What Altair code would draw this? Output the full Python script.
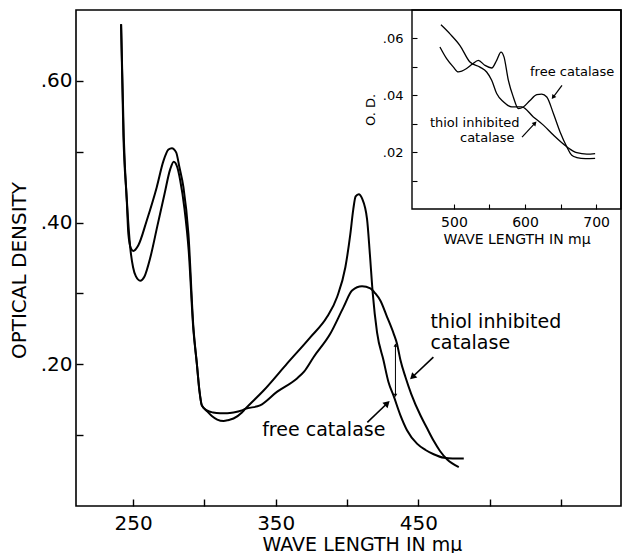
import altair as alt
import pandas as pd

FONT = "DejaVu Sans"

# ---------------- main spectrum (wave length in m\u03bc, optical density) ----------------
FREE_WL = [241.6, 243.2, 245.6, 246.7, 248.6, 250.2, 253.7, 259.6, 266.6, 271.3, 274.8, 277.2,
           280.2, 282.5, 285.3, 288.8, 292.3, 294.7, 296.5, 298.2, 301.7, 305.2, 309.0, 313.4,
           317.0, 320.4, 326.3, 328.6, 341.5, 357.9, 374.2, 386.0, 393.0, 398.8, 402.3, 404.3,
           406.0, 408.2, 410.5, 414.0, 416.0, 418.0, 421.0, 425.6, 429.0, 432.7, 437.4, 442.0,
           449.0, 455.0, 460.7, 468.0, 474.0, 481.8]
FREE_OD = [0.680, 0.525, 0.431, 0.384, 0.363, 0.360, 0.368, 0.403, 0.450, 0.487, 0.503, 0.505,
           0.499, 0.478, 0.450, 0.384, 0.252, 0.201, 0.163, 0.142, 0.134, 0.127, 0.122, 0.120,
           0.1215, 0.1235, 0.132, 0.137, 0.163, 0.201, 0.238, 0.267, 0.295, 0.337, 0.384, 0.418,
           0.437, 0.440, 0.434, 0.405, 0.355, 0.300, 0.245, 0.205, 0.175, 0.155, 0.128, 0.107,
           0.088, 0.079, 0.073, 0.068, 0.067, 0.067]

THIOL_WL = [241.6, 243.5, 246.0, 248.0, 250.0, 252.0, 255.0, 258.0, 262.0, 267.0, 272.0, 276.0,
            278.5, 281.0, 283.0, 286.0, 289.0, 292.3, 294.7, 296.5, 298.2, 301.7, 306.0, 311.0,
            316.0, 320.4, 326.3, 328.6, 339.0, 350.8, 364.9, 370.0, 376.5, 388.2, 397.6, 403.5,
            410.5, 416.3, 419.8, 423.3, 428.0, 432.7, 435.0, 437.4, 440.9, 445.0, 451.4, 456.0,
            460.7, 465.0, 470.0, 478.3]
THIOL_OD = [0.680, 0.520, 0.420, 0.365, 0.337, 0.324, 0.318, 0.324, 0.350, 0.395, 0.440, 0.475,
            0.486, 0.478, 0.460, 0.420, 0.360, 0.248, 0.201, 0.163, 0.142, 0.135, 0.132, 0.131,
            0.131, 0.132, 0.135, 0.137, 0.142, 0.161, 0.180, 0.190, 0.210, 0.243, 0.281, 0.304,
            0.310, 0.307, 0.300, 0.290, 0.267, 0.243, 0.229, 0.206, 0.182, 0.158, 0.128, 0.110,
            0.092, 0.078, 0.066, 0.055]

MAIN_X_DOMAIN = [210, 592]
MAIN_Y_DOMAIN = [0, 0.7]
MAIN_X_TICKS = [250, 300, 350, 400, 450, 500, 550]
MAIN_X_LABELED = [250, 350, 450]
MAIN_Y_TICKS = [0.1, 0.2, 0.3, 0.4, 0.5, 0.6]
MAIN_Y_LABELED = [0.2, 0.4, 0.6]

# annotations of the main panel
MAIN_NOTE_TEXT = ["thiol inhibited", "catalase", "free catalase"]
MAIN_NOTE_WL = [458.4, 458.4, 340.5]
MAIN_NOTE_OD = [0.259, 0.2296, 0.107]
MAIN_ARROW_WL = [460.5, 414.2]        # tails
MAIN_ARROW_OD = [0.210, 0.118]
MAIN_ARROW_WL2 = [445.8, 428.2]       # tips
MAIN_ARROW_OD2 = [0.182, 0.145]
MAIN_ARROW_ANGLE = [226, 46]
GAP_WL = [433.9]
GAP_OD = [0.156]
GAP_OD2 = [0.227]

# ---------------- inset: visible region ----------------
FREE_IN_WL = [480.3, 489.7, 499.0, 506.1, 517.8, 526.0, 534.3, 543.7, 553.1, 560.1, 566.2, 570.4,
              576.5, 583.5, 590.6, 597.6, 607.0, 616.5, 623.5, 630.6, 639.9, 649.3, 658.7, 665.8,
              672.8, 685.0, 698.6]
FREE_IN_OD = [0.0570, 0.0529, 0.0500, 0.0482, 0.0494, 0.0510, 0.0523, 0.0505, 0.0496, 0.0523,
              0.0552, 0.0535, 0.0453, 0.0394, 0.0353, 0.0359, 0.0382, 0.0402, 0.0404, 0.0394,
              0.0336, 0.0271, 0.0219, 0.0189, 0.0181, 0.0177, 0.0178]
THIOL_IN_WL = [481.7, 494.4, 508.5, 522.5, 536.6, 546.0, 553.1, 560.1, 569.5, 581.3, 595.4, 611.7,
               625.8, 639.9, 658.7, 672.8, 686.9, 698.6]
THIOL_IN_OD = [0.0648, 0.0616, 0.0575, 0.0517, 0.0499, 0.0482, 0.0453, 0.0406, 0.0377, 0.0359,
               0.0359, 0.0324, 0.0295, 0.0260, 0.0219, 0.0198, 0.0193, 0.0195]

INSET_X_DOMAIN = [441, 735]
INSET_Y_DOMAIN = [0, 0.07]
INSET_X_TICKS = [500, 550, 600, 650, 700]
INSET_X_LABELED = [500, 600, 700]
INSET_Y_TICKS = [0.01, 0.02, 0.03, 0.04, 0.05, 0.06]
INSET_Y_LABELED = [0.02, 0.04, 0.06]

INSET_NOTE_TEXT = ["free catalase", "thiol inhibited", "catalase"]
INSET_NOTE_WL = [607.0, 466.2, 508.5]
INSET_NOTE_OD = [0.0481, 0.0302, 0.0249]
INSET_ARROW_WL = [652.0, 595.8]
INSET_ARROW_OD = [0.0435, 0.0253]
INSET_ARROW_WL2 = [639.4, 614.0]
INSET_ARROW_OD2 = [0.0393, 0.0302]
INSET_ARROW_ANGLE = [217, 43]

# ---------------- layout (pixels) ----------------
W, H = 545, 496
INSET_RANGE_X = [336, 545]
INSET_RANGE_Y = [199, 0]


def in_list_expr(vals):
    return "indexof([" + ",".join(str(v) for v in vals) + "], datum.value) >= 0"


main_x_scale = alt.Scale(domain=MAIN_X_DOMAIN, nice=False, zero=False)
main_y_scale = alt.Scale(domain=MAIN_Y_DOMAIN, nice=False, zero=False)
inset_x_scale = alt.Scale(domain=INSET_X_DOMAIN, range=INSET_RANGE_X, nice=False, zero=False)
inset_y_scale = alt.Scale(domain=INSET_Y_DOMAIN, range=INSET_RANGE_Y, nice=False, zero=False)

main_x_axis = alt.Axis(
    values=MAIN_X_TICKS, orient="bottom", offset=-7, tickSize=7, domain=False, grid=False,
    labelExpr=in_list_expr(MAIN_X_LABELED) + " ? datum.label : ''",
    labelPadding=7, labelFontSize=20, labelFont=FONT, labelColor="black",
    tickColor="black", tickWidth=1.4,
    title="WAVE LENGTH IN m\u03bc", titleFont=FONT, titleFontSize=19, titleFontWeight="normal",
    titleColor="black", titleBaseline="alphabetic", titlePadding=17, titleX=286)
main_y_axis = alt.Axis(
    values=MAIN_Y_TICKS, orient="left", offset=-7, tickSize=7, domain=False, grid=False,
    labelExpr=in_list_expr(MAIN_Y_LABELED) + " ? substring(format(datum.value, '.2f'), 1) : ''",
    labelPadding=4, labelFontSize=20, labelFont=FONT, labelColor="black",
    tickColor="black", tickWidth=1.4,
    title="OPTICAL DENSITY", titleFont=FONT, titleFontSize=20, titleFontWeight="normal",
    titleColor="black", titlePadding=11, titleY=260)

inset_x_axis = alt.Axis(
    values=INSET_X_TICKS, orient="bottom", offset=-(H - INSET_RANGE_Y[0]) - 5, tickSize=5,
    domain=False, grid=False,
    labelExpr=in_list_expr(INSET_X_LABELED) + " ? datum.label : ''",
    labelPadding=6, labelFontSize=14, labelFont=FONT, labelColor="black",
    tickColor="black", tickWidth=1.1,
    title="WAVE LENGTH IN m\u03bc", titleFont=FONT, titleFontSize=14, titleFontWeight="normal",
    titleColor="black", titlePadding=3)
inset_y_axis = alt.Axis(
    values=INSET_Y_TICKS, orient="left", offset=-(INSET_RANGE_X[0] + 5), tickSize=5,
    domain=False, grid=False,
    labelExpr=in_list_expr(INSET_Y_LABELED) + " ? substring(format(datum.value, '.2f'), 1) : ''",
    labelPadding=9, labelFontSize=13, labelFont=FONT, labelColor="black",
    tickColor="black", tickWidth=1.1,
    title="O. D.", titleFont=FONT, titleFontSize=13, titleFontWeight="normal",
    titleColor="black", titlePadding=5)

# ---------------- data tables ----------------
main_df = pd.concat([
    pd.DataFrame({"wl": FREE_WL, "od": FREE_OD, "series": "free catalase"}),
    pd.DataFrame({"wl": THIOL_WL, "od": THIOL_OD, "series": "thiol inhibited catalase"}),
])
inset_df = pd.concat([
    pd.DataFrame({"wl": FREE_IN_WL, "od": FREE_IN_OD, "series": "free catalase"}),
    pd.DataFrame({"wl": THIOL_IN_WL, "od": THIOL_IN_OD, "series": "thiol inhibited catalase"}),
])
main_notes = pd.DataFrame({"wl": MAIN_NOTE_WL, "od": MAIN_NOTE_OD, "text": MAIN_NOTE_TEXT})
main_arrows = pd.DataFrame({"wl": MAIN_ARROW_WL, "od": MAIN_ARROW_OD,
                            "wl2": MAIN_ARROW_WL2, "od2": MAIN_ARROW_OD2,
                            "ang": MAIN_ARROW_ANGLE})
gap_df = pd.DataFrame({"wl": GAP_WL, "od": GAP_OD, "od2": GAP_OD2})
gap_heads = pd.DataFrame({"wl": GAP_WL * 2, "od": GAP_OD + GAP_OD2, "ang": [180, 0]})
inset_notes = pd.DataFrame({"wl": INSET_NOTE_WL, "od": INSET_NOTE_OD, "text": INSET_NOTE_TEXT})
inset_arrows = pd.DataFrame({"wl": INSET_ARROW_WL, "od": INSET_ARROW_OD,
                             "wl2": INSET_ARROW_WL2, "od2": INSET_ARROW_OD2,
                             "ang": INSET_ARROW_ANGLE})
inset_box = pd.DataFrame({"wl": [INSET_X_DOMAIN[0]], "wl2": [INSET_X_DOMAIN[1]],
                          "od": [INSET_Y_DOMAIN[0]], "od2": [INSET_Y_DOMAIN[1]]})


def mx(field):
    return alt.X(field, scale=main_x_scale, axis=main_x_axis)


def my(field):
    return alt.Y(field, scale=main_y_scale, axis=main_y_axis)


def ix(field):
    return alt.X(field, scale=inset_x_scale, axis=inset_x_axis)


def iy(field):
    return alt.Y(field, scale=inset_y_scale, axis=inset_y_axis)


# ---------------- main panel ----------------
main_lines = alt.Chart(main_df).mark_line(
    color="black", strokeWidth=2, interpolate="monotone"
).encode(x=mx("wl:Q"), y=my("od:Q"), detail="series:N")
main_text = alt.Chart(main_notes).mark_text(
    align="left", baseline="middle", font=FONT, fontSize=19, color="black"
).encode(x=mx("wl:Q"), y=my("od:Q"), text="text:N")
main_arrow_lines = alt.Chart(main_arrows).mark_rule(color="black", strokeWidth=1.6).encode(
    x=mx("wl:Q"), x2="wl2:Q", y=my("od:Q"), y2="od2:Q")
main_arrow_heads = alt.Chart(main_arrows).mark_point(
    shape="triangle-up", filled=True, color="black", opacity=1, size=55
).encode(x=mx("wl2:Q"), y=my("od2:Q"), angle=alt.Angle("ang:Q", scale=None))
gap_line = alt.Chart(gap_df).mark_rule(color="black", strokeWidth=1).encode(
    x=mx("wl:Q"), y=my("od:Q"), y2="od2:Q")
gap_head_marks = alt.Chart(gap_heads).mark_point(
    shape="triangle-up", filled=True, color="black", opacity=1, size=14
).encode(x=mx("wl:Q"), y=my("od:Q"), angle=alt.Angle("ang:Q", scale=None))
main_panel = alt.layer(main_lines, main_text, main_arrow_lines, main_arrow_heads,
                       gap_line, gap_head_marks)

# ---------------- inset ----------------
inset_lines = alt.Chart(inset_df).mark_line(
    color="black", strokeWidth=1.3, interpolate="monotone"
).encode(x=ix("wl:Q"), y=iy("od:Q"), detail="series:N")
inset_frame = alt.Chart(inset_box).mark_rect(
    fillOpacity=0, stroke="black", strokeWidth=1.4
).encode(x=ix("wl:Q"), x2="wl2:Q", y=iy("od:Q"), y2="od2:Q")
inset_text = alt.Chart(inset_notes).mark_text(
    align="left", baseline="middle", font=FONT, fontSize=13, color="black"
).encode(x=ix("wl:Q"), y=iy("od:Q"), text="text:N")
inset_arrow_lines = alt.Chart(inset_arrows).mark_rule(color="black", strokeWidth=1.2).encode(
    x=ix("wl:Q"), x2="wl2:Q", y=iy("od:Q"), y2="od2:Q")
inset_arrow_heads = alt.Chart(inset_arrows).mark_point(
    shape="triangle-up", filled=True, color="black", opacity=1, size=25
).encode(x=ix("wl2:Q"), y=iy("od2:Q"), angle=alt.Angle("ang:Q", scale=None))
inset_panel = alt.layer(inset_lines, inset_frame, inset_text, inset_arrow_lines,
                        inset_arrow_heads)

chart = alt.layer(main_panel, inset_panel).resolve_scale(
    x="independent", y="independent"
).properties(
    width=W, height=H,
    autosize=alt.AutoSizeParams(type="none"),
    padding={"left": 76, "top": 10, "right": 2, "bottom": 47},
    background="white",
).configure_view(stroke="black", strokeWidth=1.6)

chart.save("out.html", embed_options={"renderer": "svg", "actions": False})
